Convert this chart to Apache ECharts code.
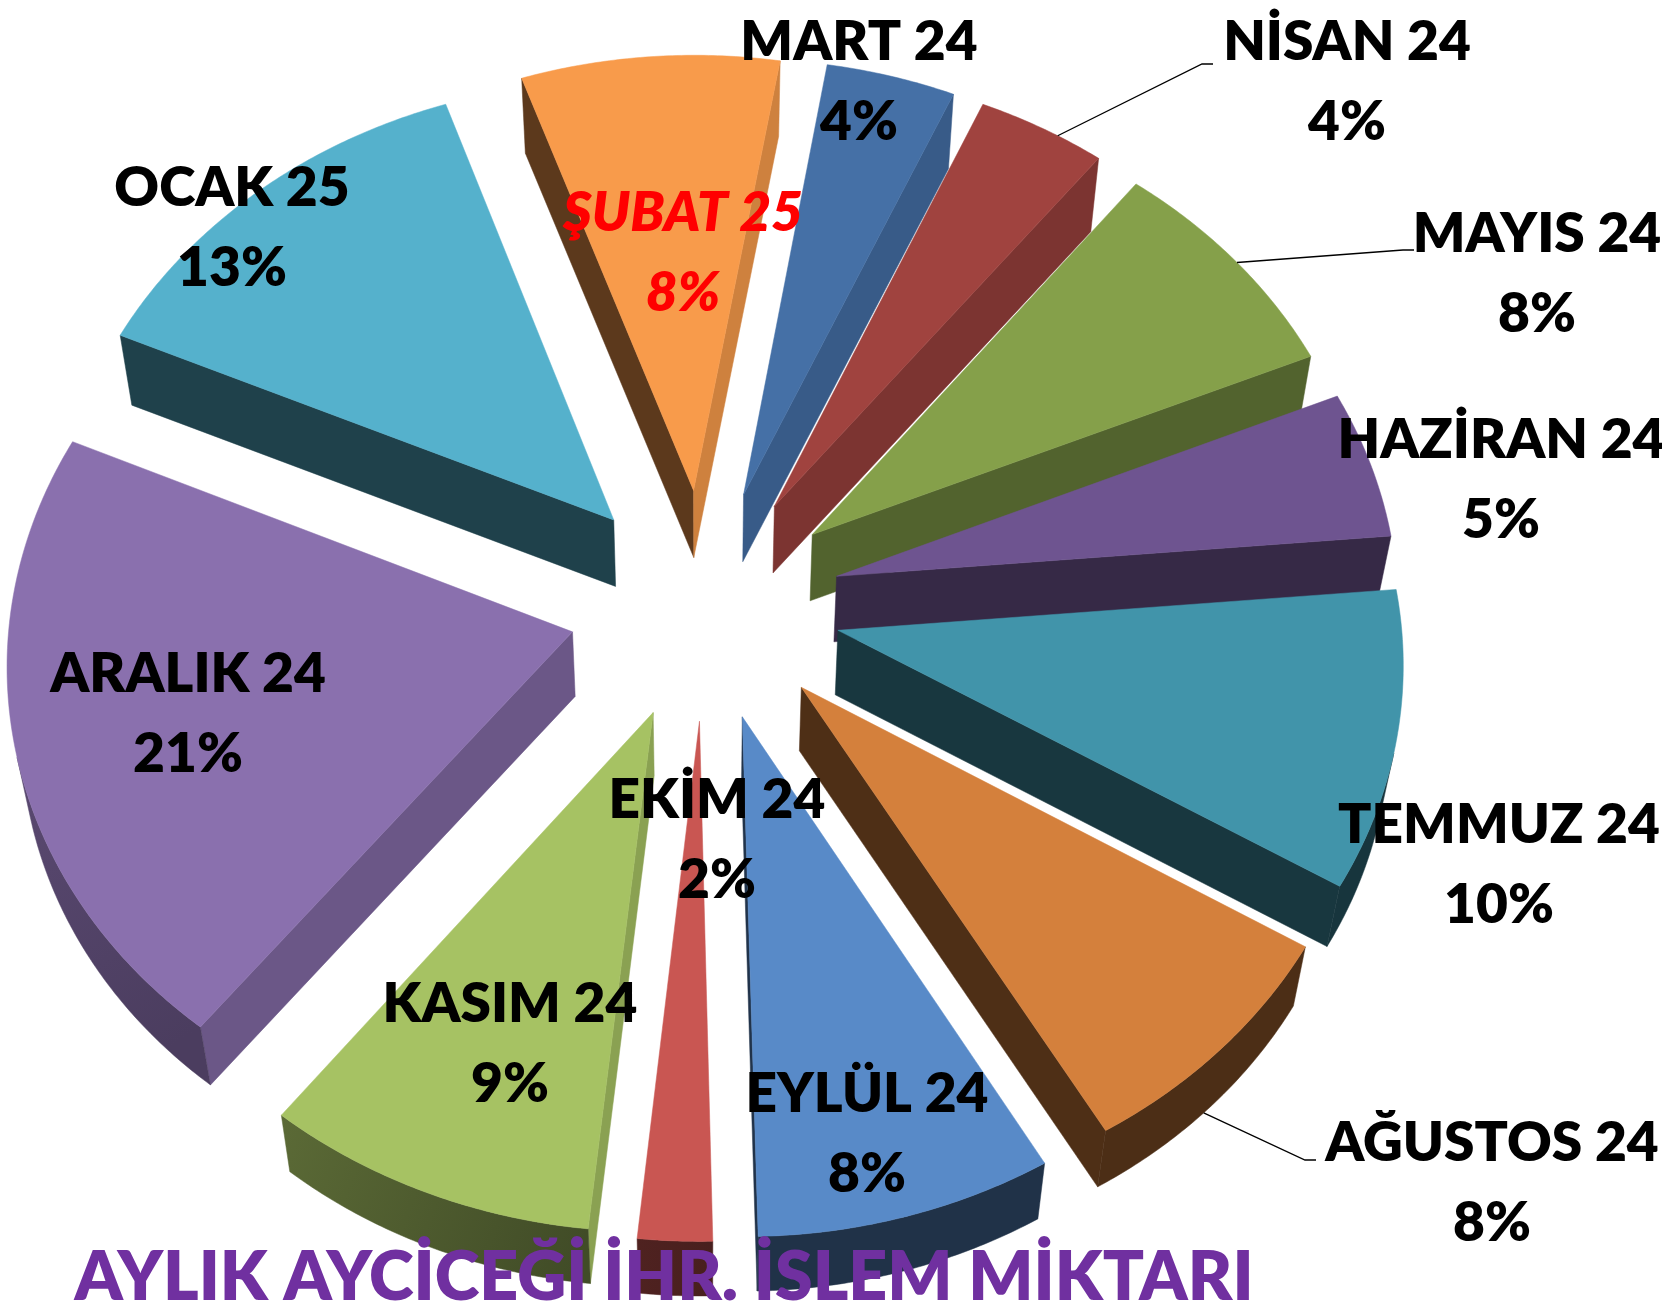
<!DOCTYPE html>
<html>
<head>
<meta charset="utf-8">
<script src="https://cdn.jsdelivr.net/npm/echarts@6/dist/echarts.min.js"></script>
<style>
  html, body { margin: 0; padding: 0; background: #ffffff; overflow: hidden; }
  #chart { width: 1662px; height: 1303px; }
</style>
</head>
<body>
<div id="chart"></div>
<script>
// Monthly sunflower export transaction volume, share per month
const months = ['MART 24', 'NİSAN 24', 'MAYIS 24', 'HAZİRAN 24', 'TEMMUZ 24', 'AĞUSTOS 24',
                'EYLÜL 24', 'EKİM 24', 'KASIM 24', 'ARALIK 24', 'OCAK 25', 'ŞUBAT 25'];
const shares = [4, 4, 8, 5, 10, 8, 8, 2, 9, 21, 13, 8];
const chartTitle = 'AYLIK AYCİCEĞİ İHR. İSLEM MİKTARI';

// slice colours (top faces); side walls are shaded from these
const sliceColors = ['#4570A6', '#A0433F', '#85A04A', '#6E5490', '#4194AA', '#D4803C',
                     '#588AC8', '#C95652', '#A6C263', '#8A70AE', '#55B1CC', '#F89B4B'];

// where each data label sits (centre of its two lines) and optional leader lines
const labelPlaces = [
  { x: 859,  y: 82 },
  { x: 1347, y: 82,   leader: { angle: 33,    low: false, to: [1202, 64] } },
  { x: 1537, y: 274,  leader: { angle: 53,    low: false, to: [1403, 250] } },
  { x: 1501, y: 480 },
  { x: 1499, y: 865 },
  { x: 1492, y: 1183, leader: { angle: 136.4, low: true,  to: [1305, 1160] } },
  { x: 867,  y: 1134 },
  { x: 717,  y: 840 },
  { x: 510,  y: 1044 },
  { x: 188,  y: 714 },
  { x: 232,  y: 228 },
  { x: 683,  y: 253, highlight: true }
];

// 3-D pie geometry
const G = {
  cx: 705, cy: 604,      // pie centre on screen
  r: 562,                // radius
  explode: 136,          // radial offset of every slice
  ky: 0.85,              // vertical squash of the tilted disc
  persp: 0.06,           // near side a little larger than far side
  depth: 65, depthSlope: 0.015, baseShrink: 0.98,
  start: 9.5             // first slice starts 9.5 degrees clockwise from 12 o'clock
};

const rad = d => d * Math.PI / 180;

function proj(X, Y, low) {
  const s = 1 - G.persp * Y / G.r;
  let x = G.cx + X * s;
  let y = G.cy - Y * G.ky * s;
  if (low) {
    x = G.cx + (x - G.cx) * G.baseShrink;
    y += G.depth + G.depthSlope * Y;
  }
  return [x, y];
}

function shade(hex, f) {
  const n = parseInt(hex.slice(1), 16);
  const r = Math.round(((n >> 16) & 255) * f);
  const g = Math.round(((n >> 8) & 255) * f);
  const b = Math.round((n & 255) * f);
  return 'rgb(' + r + ',' + g + ',' + b + ')';
}

function signedArea(pts) {
  let s = 0;
  for (let k = 0; k < pts.length; k++) {
    const p = pts[k], q = pts[(k + 1) % pts.length];
    s += p[0] * q[1] - q[0] * p[1];
  }
  return s;
}

const radialLight = a => 0.37 + 0.46 * Math.max(0, Math.cos(rad(a - 100)));
const rimLight = a => 0.36 + 0.3 * Math.max(0, Math.sin(rad(a - 180)));

const total = shares.reduce((a, b) => a + b, 0);
let acc = 0;
const slices = shares.map((v, i) => {
  const a0 = G.start + acc / total * 360;
  acc += v;
  const a1 = G.start + acc / total * 360;
  const am = (a0 + a1) / 2;
  return { i, a0, a1, am, ox: G.explode * Math.sin(rad(am)), oy: G.explode * Math.cos(rad(am)) };
});
const depthRank = {};
slices.slice().sort((p, q) => q.oy - p.oy).forEach((s, k) => { depthRank[s.i] = k; });

function rimPoint(s, a, low) {
  return proj(s.ox + G.r * Math.sin(rad(a)), s.oy + G.r * Math.cos(rad(a)), low);
}

const labelFont = { fontFamily: 'Lato', fontSize: 55, fontWeight: 800 };

function renderSlice(params, api) {
  const s = slices[params.dataIndex];
  const base = sliceColors[s.i];
  const z = depthRank[s.i] * 10;
  const children = [];

  const steps = Math.max(2, Math.ceil((s.a1 - s.a0) / 0.5));
  const angles = [];
  for (let k = 0; k <= steps; k++) angles.push(s.a0 + (s.a1 - s.a0) * k / steps);
  const topArc = angles.map(a => rimPoint(s, a, false));
  const lowArc = angles.map(a => rimPoint(s, a, true));
  const tipT = proj(s.ox, s.oy, false);
  const tipB = proj(s.ox, s.oy, true);

  // radial walls
  const startWall = [tipT, topArc[0], lowArc[0], tipB];
  if (signedArea(startWall) < 0) {
    const c = shade(base, radialLight(s.a0 - 90));
    children.push({ type: 'polygon', shape: { points: startWall }, z2: z + 1,
      style: { fill: c, stroke: c, lineWidth: 0.5 } });
  }
  const endWall = [topArc[steps], tipT, tipB, lowArc[steps]];
  if (signedArea(endWall) < 0) {
    const c = shade(base, radialLight(s.a1 + 90));
    children.push({ type: 'polygon', shape: { points: endWall }, z2: z + 1,
      style: { fill: c, stroke: c, lineWidth: 0.5 } });
  }

  // outer curved wall, only the part facing the viewer
  let first = -1, last = -1;
  for (let k = 0; k < steps; k++) {
    const quad = [topArc[k], topArc[k + 1], lowArc[k + 1], lowArc[k]];
    if (signedArea(quad) < 0) { if (first < 0) first = k; last = k + 1; }
  }
  if (first >= 0) {
    const pts = topArc.slice(first, last + 1).concat(lowArc.slice(first, last + 1).reverse());
    const p0 = topArc[first], p1 = topArc[last];
    const c0 = shade(base, rimLight(angles[first])), c1 = shade(base, rimLight(angles[last]));
    const grad = new echarts.graphic.LinearGradient(p0[0], p0[1], p1[0], p1[1] + 0.01,
      [{ offset: 0, color: c0 }, { offset: 1, color: c1 }], true);
    children.push({ type: 'polygon', shape: { points: pts }, z2: z + 1,
      style: { fill: grad, stroke: grad, lineWidth: 0.5 } });
  }

  // top face
  children.push({ type: 'polygon', shape: { points: [tipT].concat(topArc) }, z2: z + 2,
    style: { fill: base, stroke: base, lineWidth: 0.5 } });

  // data label
  const lp = labelPlaces[s.i];
  const pct = Math.round(api.value(1) / total * 100) + '%';
  children.push({ type: 'text', x: lp.x, y: lp.y, z2: 500,
    style: Object.assign({
      text: months[s.i] + '\n' + pct,
      fill: lp.highlight ? '#FF0000' : '#000000',
      fontStyle: lp.highlight ? 'italic' : 'normal',
      align: 'center', verticalAlign: 'middle', lineHeight: 80
    }, labelFont) });
  if (lp.leader) {
    const from = rimPoint(s, lp.leader.angle, lp.leader.low);
    const to = lp.leader.to;
    children.push({ type: 'polyline', z2: 499,
      shape: { points: [from, to, [to[0] + 11, to[1]]] },
      style: { stroke: '#000000', lineWidth: 1.3, fill: null } });
  }
  return { type: 'group', children };
}

const chart = echarts.init(document.getElementById('chart'), null, { renderer: 'canvas' });
chart.setOption({
  animation: false,
  backgroundColor: '#ffffff',
  graphic: [{
    type: 'text', x: 664, y: 1278, z: 10,
    style: { text: chartTitle, fill: '#7030A0', fontFamily: 'Lato', fontSize: 68, fontWeight: 800,
             align: 'center', verticalAlign: 'middle' }
  }],
  series: [{
    type: 'custom',
    coordinateSystem: 'none',
    renderItem: renderSlice,
    data: shares.map((v, i) => [i, v])
  }]
});
</script>
</body>
</html>
